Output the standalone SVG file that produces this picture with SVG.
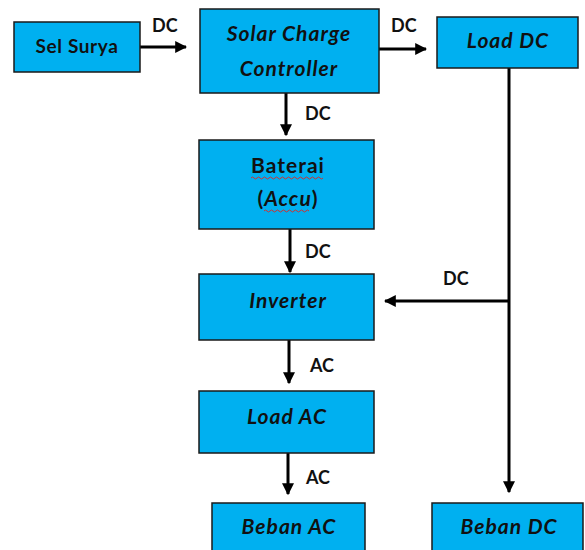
<svg xmlns="http://www.w3.org/2000/svg" width="585" height="550" viewBox="0 0 585 550">
<defs>
<style>
.box{fill:#00B0F0;stroke:#1a1a1a;stroke-width:1.5}
.t{font-family:Lato,"Open Sans","Liberation Sans",sans-serif;font-size:21px;letter-spacing:1px;font-weight:bold;fill:#111;text-anchor:middle}
.i{font-style:italic}
.lbl{font-family:Lato,"Open Sans","Liberation Sans",sans-serif;font-size:18px;font-weight:bold;fill:#111}
.ln{stroke:#000;stroke-width:3;fill:none}
.sq{stroke:#d03030;stroke-width:1;fill:none}
</style>
<marker id="ah" viewBox="0 0 10 10" refX="9" refY="5" markerWidth="4" markerHeight="4" markerUnits="strokeWidth" orient="auto">
<path d="M0,0 L10,5 L0,10 Z" fill="#000"/>
</marker>
</defs>
<rect width="585" height="550" fill="#fff"/>
<g id="connectors">
<line class="ln" x1="140" y1="47" x2="186" y2="47" marker-end="url(#ah)"/>
<line class="ln" x1="379" y1="49" x2="426" y2="49" marker-end="url(#ah)"/>
<line class="ln" x1="286" y1="93" x2="286" y2="135" marker-end="url(#ah)"/>
<line class="ln" x1="290" y1="229" x2="290" y2="272" marker-end="url(#ah)"/>
<line class="ln" x1="289" y1="340" x2="289" y2="383" marker-end="url(#ah)"/>
<line class="ln" x1="288" y1="453" x2="288" y2="494" marker-end="url(#ah)"/>
<line class="ln" x1="509" y1="68" x2="509" y2="492" marker-end="url(#ah)"/>
<line class="ln" x1="509" y1="301" x2="385" y2="301" marker-end="url(#ah)"/>
<text class="lbl" x="152" y="32">DC</text>
<text class="lbl" x="391" y="32">DC</text>
<text class="lbl" x="305" y="120">DC</text>
<text class="lbl" x="305" y="258">DC</text>
<text class="lbl" x="443" y="285">DC</text>
<text class="lbl" x="310" y="372">AC</text>
<text class="lbl" x="306" y="484">AC</text>
</g>
<g id="sel-surya">
<rect class="box" x="14" y="22" width="126" height="50"/>
<text class="t" x="77" y="53" style="font-size:19px;letter-spacing:0.6px">Sel Surya</text>
</g>
<g id="scc">
<rect class="box" x="200" y="9" width="179" height="84"/>
<text class="t i" x="289" y="41">Solar Charge</text>
<text class="t i" x="289" y="76">Controller</text>
</g>
<g id="load-dc">
<rect class="box" x="437" y="17" width="141" height="51"/>
<text class="t i" x="508" y="48">Load DC</text>
</g>
<g id="baterai">
<rect class="box" x="199" y="140" width="175" height="89"/>
<text class="t" x="288" y="173">Baterai</text>
<path class="sq" d="M251,178 q1.5,-2 3,0 t3,0 t3,0 t3,0 t3,0 t3,0 t3,0 t3,0 t3,0 t3,0 t3,0 t3,0 t3,0 t3,0 t3,0 t3,0 t3,0 t3,0 t3,0 t3,0 t3,0 t3,0 t3,0 t3,0"/>
<text class="t" x="288" y="206">(<tspan class="i">Accu</tspan>)</text>
<path class="sq" d="M264,211 q1.5,-2 3,0 t3,0 t3,0 t3,0 t3,0 t3,0 t3,0 t3,0 t3,0 t3,0 t3,0 t3,0 t3,0 t3,0 t3,0"/>
</g>
<g id="inverter">
<rect class="box" x="199" y="274" width="175" height="66"/>
<text class="t i" x="288" y="308">Inverter</text>
</g>
<g id="load-ac">
<rect class="box" x="199" y="391" width="175" height="62"/>
<text class="t i" x="287" y="424">Load AC</text>
</g>
<g id="beban-ac">
<rect class="box" x="212" y="503" width="153" height="60"/>
<text class="t i" x="289" y="534">Beban AC</text>
</g>
<g id="beban-dc">
<rect class="box" x="432" y="503" width="151" height="60"/>
<text class="t i" x="509" y="534">Beban DC</text>
</g>
</svg>
